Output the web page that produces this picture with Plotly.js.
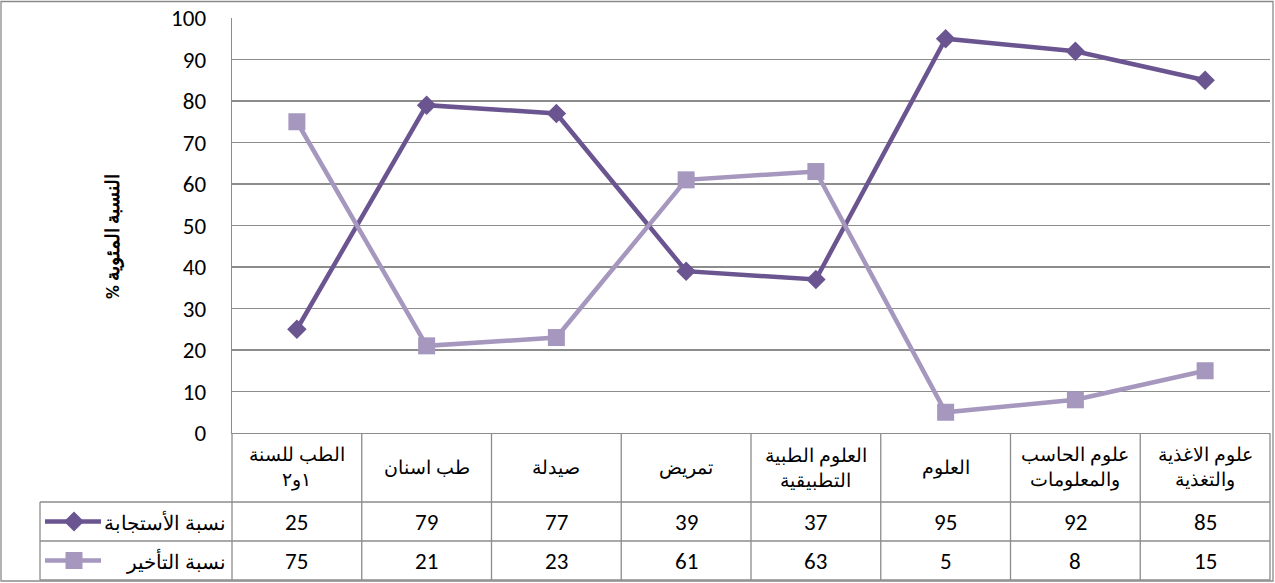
<!DOCTYPE html>
<html>
<head>
<meta charset="utf-8">
<script src="https://cdn.plot.ly/plotly-3.0.1.min.js"></script>
<style>html,body{margin:0;padding:0;background:#fff;}#chart{width:1275px;height:583px;}</style>
</head>
<body>
<div id="chart"></div>
<script>
// ---- data ----
const categories = [
  "الطب للسنة<br>١و٢",
  "طب اسنان",
  "صيدلة",
  "تمريض",
  "العلوم الطبية<br>التطبيقية",
  "العلوم",
  "علوم الحاسب<br>والمعلومات",
  "علوم الاغذية<br>والتغذية"
];
const responseName = "نسبة الأستجابة";
const responseValues = [25, 79, 77, 39, 37, 95, 92, 85];
const delayName = "نسبة التأخير";
const delayValues = [75, 21, 23, 61, 63, 5, 8, 15];
const yTitle = "% النسبة المئوية";
const yTicks = [0, 10, 20, 30, 40, 50, 60, 70, 80, 90, 100];

// ---- styling / layout geometry ----
const DARK = "#6A5590";
const LIGHT = "#A697BE";
const GRID = "#8C8C8C";
const L = 232, R = 1270, T = 18, B = 433;
const W = R - L, H = B - T;
const px = p => (p - L) / W;
const py = p => (B - p) / H;
const NUMFONT = "Calibri, Carlito, Lato, sans-serif";
const ARFONT = "'Times New Roman', 'Liberation Serif', 'DejaVu Serif', serif";

const xIdx = categories.map((c, i) => i);

const traces = [
  {
    x: xIdx, y: responseValues, name: responseName, type: "scatter", mode: "lines+markers",
    line: {color: DARK, width: 4.5}, marker: {symbol: "diamond", size: 15, color: DARK},
    hoverinfo: "skip"
  },
  {
    x: xIdx, y: delayValues, name: delayName, type: "scatter", mode: "lines+markers",
    line: {color: LIGHT, width: 4.5}, marker: {symbol: "square", size: 17, color: LIGHT},
    hoverinfo: "skip"
  }
];

const shapes = [];
const lineStyle = {color: GRID, width: 1.3};
// outer chart border
shapes.push({type: "rect", xref: "paper", yref: "paper", x0: px(1), x1: px(1273), y0: py(1.5), y1: py(581), line: {color: "#8a8a8a", width: 1.3}});
// table horizontal lines
shapes.push({type: "line", xref: "paper", yref: "paper", x0: px(40), x1: px(R), y0: py(502), y1: py(502), line: lineStyle});
shapes.push({type: "line", xref: "paper", yref: "paper", x0: px(40), x1: px(R), y0: py(541), y1: py(541), line: lineStyle});
shapes.push({type: "line", xref: "paper", yref: "paper", x0: px(40), x1: px(R), y0: py(580), y1: py(580), line: lineStyle});
// table vertical lines
shapes.push({type: "line", xref: "paper", yref: "paper", x0: px(40), x1: px(40), y0: py(502), y1: py(580), line: lineStyle});
shapes.push({type: "line", xref: "paper", yref: "paper", x0: 0, x1: 0, y0: py(B), y1: py(580), line: lineStyle});
shapes.push({type: "line", xref: "paper", yref: "paper", x0: 1, x1: 1, y0: py(B), y1: py(580), line: lineStyle});
for (let i = 1; i < categories.length; i++) {
  shapes.push({type: "line", xref: "x", yref: "paper", x0: i - 0.5, x1: i - 0.5, y0: py(B), y1: py(580), line: lineStyle});
}
// legend keys in table
shapes.push({type: "line", xref: "paper", yref: "paper", x0: px(45), x1: px(101), y0: py(521.5), y1: py(521.5), line: {color: DARK, width: 4.5}});
shapes.push({type: "path", xref: "paper", yref: "paper", xsizemode: "pixel", ysizemode: "pixel",
  xanchor: px(74), yanchor: py(521.5), path: "M 0 10 L 10 0 L 0 -10 L -10 0 Z",
  fillcolor: DARK, line: {width: 0}});
shapes.push({type: "line", xref: "paper", yref: "paper", x0: px(45), x1: px(101), y0: py(560.5), y1: py(560.5), line: {color: LIGHT, width: 4.5}});
shapes.push({type: "path", xref: "paper", yref: "paper", xsizemode: "pixel", ysizemode: "pixel",
  xanchor: px(74), yanchor: py(560.5), path: "M -8.5 -8.5 L 8.5 -8.5 L 8.5 8.5 L -8.5 8.5 Z",
  fillcolor: LIGHT, line: {width: 0}});

const annotations = [];
categories.forEach((c, i) => {
  annotations.push({x: i, xref: "x", y: py(467.5), yref: "paper", text: c, showarrow: false,
    font: {family: ARFONT, size: 19, color: "#000"}, xanchor: "center", yanchor: "middle", align: "center"});
  annotations.push({x: i, xref: "x", y: py(521.5), yref: "paper", text: String(responseValues[i]), showarrow: false,
    font: {family: NUMFONT, size: 23, color: "#000"}, xanchor: "center", yanchor: "middle"});
  annotations.push({x: i, xref: "x", y: py(560.5), yref: "paper", text: String(delayValues[i]), showarrow: false,
    font: {family: NUMFONT, size: 23, color: "#000"}, xanchor: "center", yanchor: "middle"});
});
annotations.push({x: px(228), xref: "paper", y: py(521.5), yref: "paper", text: responseName, showarrow: false,
  font: {family: ARFONT, size: 20, color: "#000"}, xanchor: "right", yanchor: "middle"});
annotations.push({x: px(228), xref: "paper", y: py(560.5), yref: "paper", text: delayName, showarrow: false,
  font: {family: ARFONT, size: 20, color: "#000"}, xanchor: "right", yanchor: "middle"});
annotations.push({x: px(112), xref: "paper", y: py(237), yref: "paper", text: "<b>" + yTitle + "</b>", showarrow: false,
  textangle: -90, font: {family: NUMFONT, size: 19, color: "#000"}, xanchor: "center", yanchor: "middle"});

const layout = {
  width: 1275, height: 583,
  margin: {l: L, r: 1275 - R, t: T, b: 583 - B},
  paper_bgcolor: "#fff", plot_bgcolor: "#fff",
  showlegend: false,
  xaxis: {
    type: "linear", range: [-0.5, categories.length - 0.5], showticklabels: false,
    showgrid: false, zeroline: false, showline: true, linecolor: GRID, linewidth: 1.3, ticks: "", fixedrange: true
  },
  yaxis: {
    range: [0, 100], tickvals: yTicks, ticktext: yTicks.map(String), showgrid: true, gridcolor: GRID, gridwidth: 1.3,
    zeroline: false, showline: true, linecolor: GRID, linewidth: 1.3, ticks: "", ticklen: 0,
    ticklabelstandoff: 20,
    tickfont: {family: NUMFONT, size: 23, color: "#000"}, fixedrange: true
  },
  shapes: shapes,
  annotations: annotations
};

Plotly.newPlot("chart", traces, layout, {displayModeBar: false, staticPlot: true});
</script>
</body>
</html>
